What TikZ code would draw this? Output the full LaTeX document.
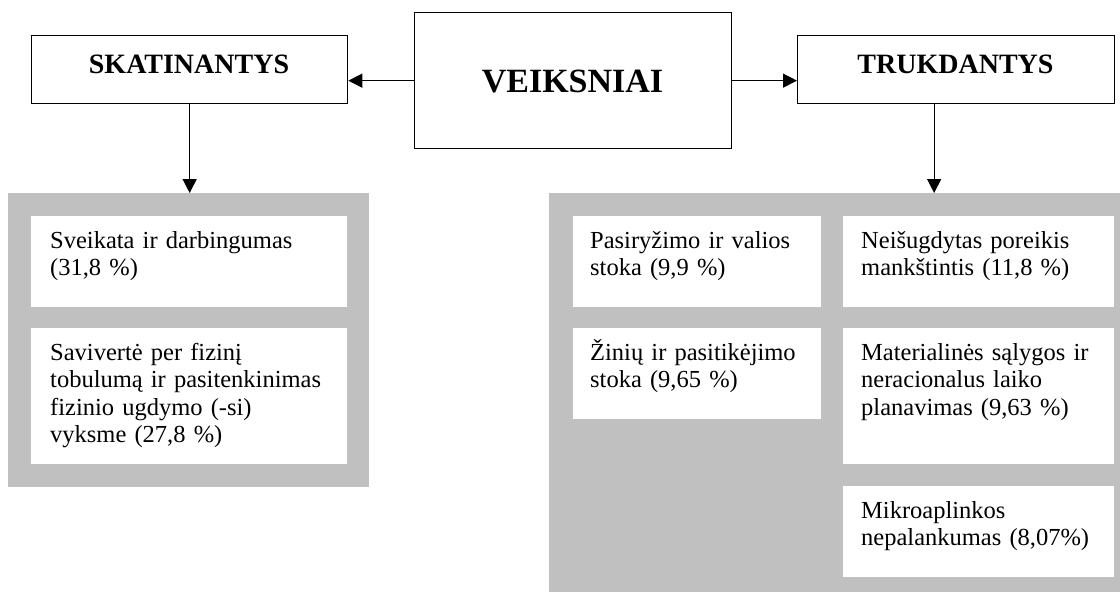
\documentclass[tikz,border=0pt]{standalone}
\usepackage{fontspec}
\setmainfont{Liberation Serif}
\usetikzlibrary{arrows.meta}
\definecolor{gfill}{RGB}{192,192,192}
\begin{document}
\begin{tikzpicture}[x=1pt,y=-1pt,
 hbox/.style={draw,line width=1.3pt,fill=white,inner sep=0pt,anchor=north west},
 wbox/.style={fill=white,draw=none,inner sep=0pt,anchor=north west},
 gbox/.style={fill=gfill,draw=none,inner sep=0pt,anchor=north west},
 htext/.style={font=\bfseries\fontsize{28}{32}\selectfont,inner sep=0pt,anchor=base},
 vtext/.style={font=\bfseries\fontsize{34}{38}\selectfont,inner sep=0pt,anchor=base},
 btext/.style={font=\fontsize{24.5}{27.5}\selectfont,inner sep=0pt,anchor=base west,align=left,text width=330pt},
 arr/.style={line width=1.3pt,-{Triangle[length=14pt,width=14pt]}}]
\useasboundingbox (0,0) rectangle (1120,592);
% header boxes
\node[hbox,minimum width=316pt,minimum height=68pt] (skat) at (31,35) {};
\node[hbox,minimum width=317pt,minimum height=136pt] (veik) at (414,12) {};
\node[hbox,minimum width=317pt,minimum height=68pt] (truk) at (797,35) {};
\node[htext] (skatt) at (189,73) {SKATINANTYS};
\node[vtext] (veikt) at (572.5,92) {VEIKSNIAI};
\node[htext] (trukt) at (955.5,73) {TRUKDANTYS};
% gray panels
\node[gbox,minimum width=361pt,minimum height=294pt] (gl) at (8,193) {};
\node[gbox,minimum width=571pt,minimum height=399pt] (gr) at (549,193) {};
% left white boxes
\node[wbox,minimum width=316pt,minimum height=91pt] (l1) at (31,216) {};
\node[wbox,minimum width=316pt,minimum height=136pt] (l2) at (31,328) {};
\node[btext] (l1t) at (50,248) {Sveikata ir darbingumas\\(31,8 \%)};
\node[btext] (l2t) at (50,360) {Savivertė per fizinį\\tobulumą ir pasitenkinimas\\fizinio ugdymo (-si)\\vyksme (27,8 \%)};
% right white boxes
\node[wbox,minimum width=248pt,minimum height=91pt] (r1) at (573,216) {};
\node[wbox,minimum width=248pt,minimum height=91pt] (r2) at (573,328) {};
\node[wbox,minimum width=271pt,minimum height=91pt] (r3) at (843,216) {};
\node[wbox,minimum width=271pt,minimum height=136pt] (r4) at (843,328) {};
\node[wbox,minimum width=271pt,minimum height=91pt] (r5) at (843,486) {};
\node[btext] (r1t) at (590,248) {Pasiryžimo ir valios\\stoka (9,9 \%)};
\node[btext] (r2t) at (590,360) {Žinių ir pasitikėjimo\\stoka (9,65 \%)};
\node[btext] (r3t) at (861,248) {Neišugdytas poreikis\\mankštintis (11,8 \%)};
\node[btext] (r4t) at (861,360) {Materialinės sąlygos ir\\neracionalus laiko\\planavimas (9,63 \%)};
\node[btext] (r5t) at (861,518) {Mikroaplinkos\\nepalankumas (8,07\%)};
% connectors
\draw[arr] (veik.west) -- (veik.west -| skat.east);
\draw[arr] (veik.east) -- (veik.east -| truk.west);
\draw[arr] (skat.south) -- (skat.south |- gl.north);
\coordinate (tk) at ([xshift=-22pt]truk.south);
\draw[arr] (tk) -- (tk |- gr.north);
\end{tikzpicture}
\end{document}
